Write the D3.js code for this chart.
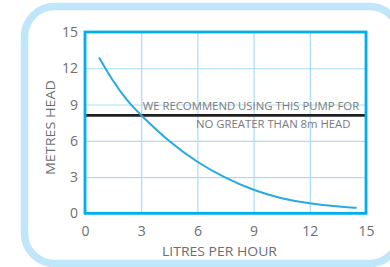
<!DOCTYPE html>
<html><head><meta charset="utf-8">
<script src="https://cdn.jsdelivr.net/npm/d3@7"></script>
<style>
html,body{margin:0;padding:0;background:#fff;}
svg{display:block;}
</style></head>
<body>
<svg id="chart" width="390" height="267"></svg>
<script>
const flowLph = [0.75, 1.5, 2.25, 3.0, 4.5, 6.0, 7.5, 9.0, 10.5, 12.0, 13.5, 14.5];
const headM   = [12.9, 10.9, 9.3, 8.1, 5.9, 4.2, 2.9, 1.9, 1.2, 0.8, 0.55, 0.45];
const xTicks = [0, 3, 6, 9, 12, 15];
const yTicks = [0, 3, 6, 9, 12, 15];
const recommendedHead = 8.1;
const noteLines = ["WE RECOMMEND USING THIS PUMP FOR", "NO GREATER THAN 8m HEAD"];
const xTitle = "LITRES PER HOUR";
const yTitle = "METRES HEAD";

const svg = d3.select("#chart");
const font = "'Open Sans', sans-serif";
const grey = "#6d6e71";

// outer rounded frame
svg.append("rect").attr("x", 24.5).attr("y", 6.5).attr("width", 375).attr("height", 257)
  .attr("rx", 30).attr("ry", 30).attr("fill", "none")
  .attr("stroke", "#c0e6f9").attr("stroke-width", 7.5);

const L = 85, R = 366, T = 32, B = 213.3;
const x = d3.scaleLinear().domain([0, 15]).range([L, R]);
const y = d3.scaleLinear().domain([0, 15]).range([B, T]);

// gridlines
const gx = svg.append("g").attr("transform", `translate(0,${B})`)
  .call(d3.axisBottom(x).tickValues(xTicks).tickSize(-(B - T)).tickFormat(""));
gx.select(".domain").remove();
gx.selectAll("line").attr("stroke", "#a9ddf5").attr("stroke-width", 1.2);
const gy = svg.append("g").attr("transform", `translate(${L},0)`)
  .call(d3.axisLeft(y).tickValues(yTicks).tickSize(-(R - L)).tickFormat(""));
gy.select(".domain").remove();
gy.selectAll("line").attr("stroke", "#a9ddf5").attr("stroke-width", 1.2);

// tick labels
const ax = svg.append("g").attr("transform", `translate(0,${B})`)
  .call(d3.axisBottom(x).tickValues(xTicks).tickSize(0).tickPadding(13));
ax.select(".domain").remove();
ax.selectAll("text").attr("font-family", font).attr("font-size", 14).attr("fill", grey);
const ay = svg.append("g").attr("transform", `translate(${L},0)`)
  .call(d3.axisLeft(y).tickValues(yTicks).tickSize(0).tickPadding(7));
ay.select(".domain").remove();
ay.selectAll("text").attr("font-family", font).attr("font-size", 14).attr("fill", grey);

// note text
svg.append("text").attr("x", 142.7).attr("y", 109.5).text(noteLines[0])
  .attr("font-family", font).attr("font-size", 11).attr("fill", "#7a7a7c")
  .attr("textLength", 216.5).attr("lengthAdjust", "spacingAndGlyphs");
svg.append("text").attr("x", 196).attr("y", 127.5).text(noteLines[1])
  .attr("font-family", font).attr("font-size", 11).attr("fill", "#7a7a7c")
  .attr("textLength", 154.5).attr("lengthAdjust", "spacingAndGlyphs");

// recommended line
svg.append("line").attr("x1", L).attr("x2", R)
  .attr("y1", y(recommendedHead)).attr("y2", y(recommendedHead))
  .attr("stroke", "#231f20").attr("stroke-width", 2.6);

// curve
const pts = flowLph.map((f, i) => [f, headM[i]]);
svg.append("path").datum(pts)
  .attr("d", d3.line().x(d => x(d[0])).y(d => y(d[1])).curve(d3.curveBasis))
  .attr("fill", "none").attr("stroke", "#27a9e1").attr("stroke-width", 2);

// plot frame
svg.append("rect").attr("x", L).attr("y", T).attr("width", R - L).attr("height", B - T)
  .attr("fill", "none").attr("stroke", "#00aeef").attr("stroke-width", 2.8);

// axis titles
svg.append("text").attr("x", 219.5).attr("y", 256).attr("text-anchor", "middle")
  .text(xTitle).attr("font-family", font).attr("font-size", 13.5).attr("fill", grey)
  .attr("textLength", 115).attr("lengthAdjust", "spacingAndGlyphs");
svg.append("text").attr("transform", "translate(54.5,127.5) rotate(-90)")
  .attr("text-anchor", "middle").text(yTitle)
  .attr("font-family", font).attr("font-size", 13.5).attr("fill", grey)
  .attr("textLength", 95).attr("lengthAdjust", "spacingAndGlyphs");
</script>
</body></html>
